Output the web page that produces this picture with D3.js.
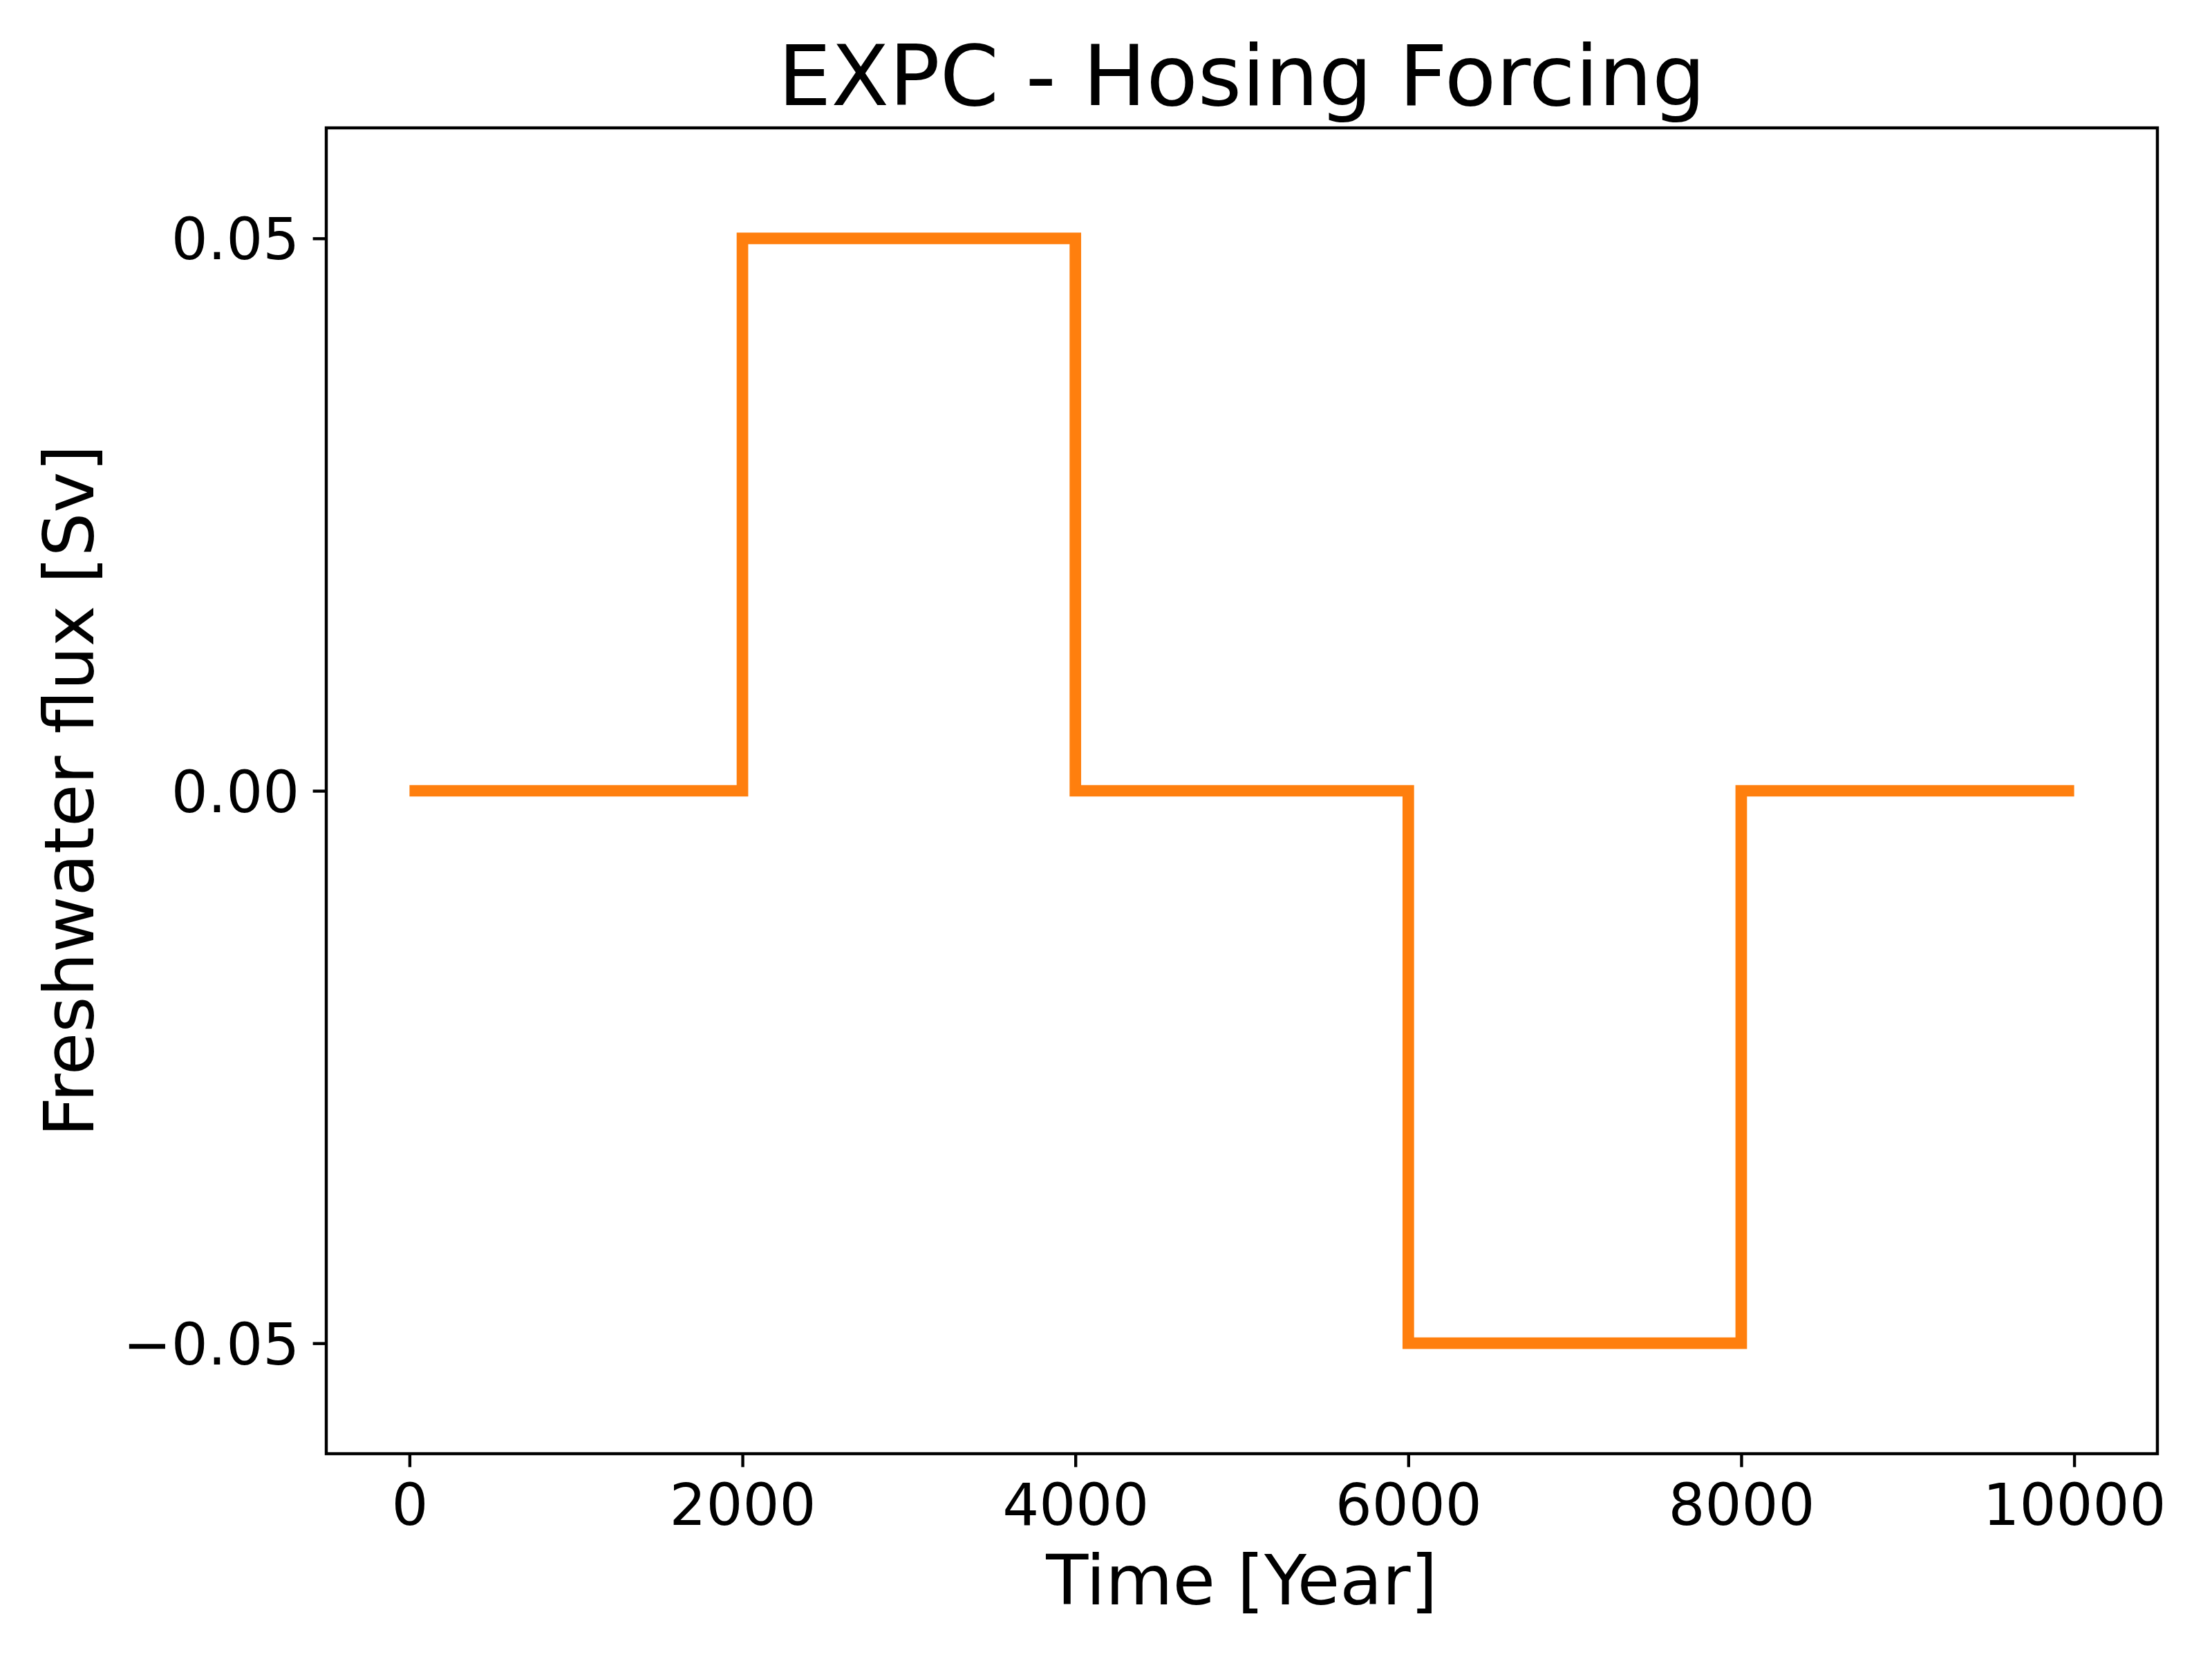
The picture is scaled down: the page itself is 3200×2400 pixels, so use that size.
<!DOCTYPE html>
<html>
<head>
<meta charset="utf-8">
<script src="https://cdn.jsdelivr.net/npm/d3@7"></script>
<style>
  html, body { margin: 0; padding: 0; background: #fff; }
  svg { display: block; font-family: "DejaVu Sans", sans-serif; }
  .tick line { stroke: #000; stroke-width: 4.4px; }
  .tick text { font-family: "DejaVu Sans", sans-serif; font-size: 83.3px; fill: #000; }
  .frame { fill: none; stroke: #000; stroke-width: 4.4px; }
  .line { fill: none; stroke: #ff7f0e; stroke-width: 16.7px; stroke-linejoin: miter; stroke-linecap: butt; }
</style>
</head>
<body>
<svg id="chart"></svg>
<script>
// step forcing: value holds from each year until the next one
var years = [0, 2000, 4000, 6000, 8000, 10000];
var flux = [0, 0.05, 0, -0.05, 0, 0];

var xTicks = [0, 2000, 4000, 6000, 8000, 10000];
var yTicks = [-0.05, 0, 0.05];

var W = 3200, H = 2400;
var margin = { top: 185, right: 79, bottom: 297, left: 472 },
  width = W - margin.left - margin.right,
  height = H - margin.top - margin.bottom;

var svg = d3.select("#chart").attr("width", W).attr("height", H);
var g = svg.append("g").attr("transform", "translate(" + margin.left + "," + margin.top + ")");

var x = d3.scaleLinear().domain([-500, 10500]).range([0, width]);
var y = d3.scaleLinear().domain([-0.06, 0.06]).range([height, 0]);

var data = years.map(function (d, i) { return { year: d, value: flux[i] }; });

var line = d3.line()
  .curve(d3.curveStepAfter)
  .x(function (d) { return x(d.year); })
  .y(function (d) { return y(d.value); });

g.append("path")
  .datum(data)
  .attr("class", "line")
  .attr("d", line);

var xAxis = g.append("g")
  .attr("class", "axis axis--x")
  .attr("transform", "translate(0," + height + ")")
  .call(d3.axisBottom(x).tickValues(xTicks).tickFormat(d3.format("d")).tickSize(19.4).tickPadding(19.4));
xAxis.select(".domain").remove();
xAxis.selectAll("text").attr("dy", "0.77em");

var yAxis = g.append("g")
  .attr("class", "axis axis--y")
  .call(d3.axisLeft(y).tickValues(yTicks).tickFormat(d3.format(".2f")).tickSize(19.4).tickPadding(19.4));
yAxis.select(".domain").remove();
yAxis.selectAll("text").attr("dy", "0.36em");

g.append("rect")
  .attr("class", "frame")
  .attr("x", 0).attr("y", 0)
  .attr("width", width).attr("height", height);

svg.append("text")
  .attr("x", margin.left + width / 2)
  .attr("y", 152)
  .attr("text-anchor", "middle")
  .style("font-size", "122px")
  .text("EXPC - Hosing Forcing");

svg.append("text")
  .attr("x", margin.left + width / 2)
  .attr("y", 2321)
  .attr("text-anchor", "middle")
  .style("font-size", "100px")
  .text("Time [Year]");

svg.append("text")
  .attr("transform", "translate(135," + (margin.top + height / 2) + ") rotate(-90)")
  .attr("text-anchor", "middle")
  .style("font-size", "100px")
  .text("Freshwater flux [Sv]");
</script>
</body>
</html>
